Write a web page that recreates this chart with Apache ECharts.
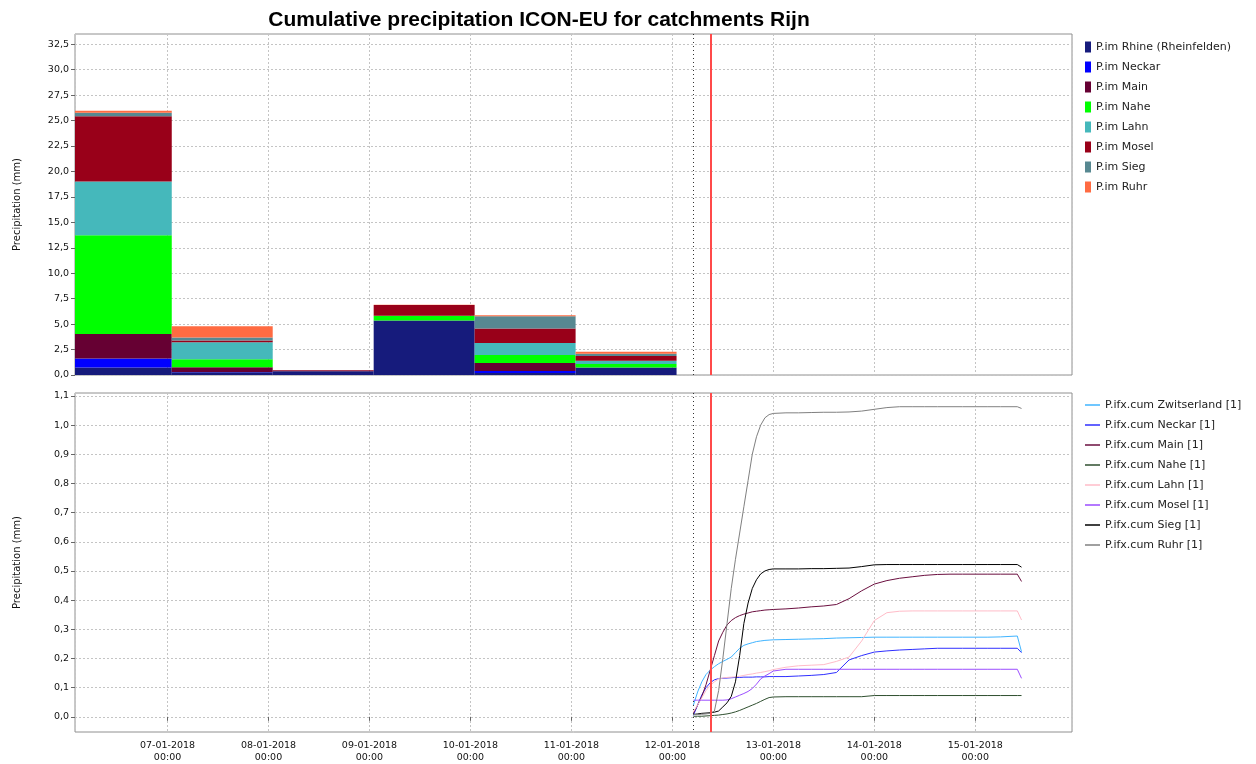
<!DOCTYPE html>
<html>
<head>
<meta charset="utf-8">
<script src="https://cdn.jsdelivr.net/npm/echarts@6/dist/echarts.min.js"></script>
<style>
html,body{margin:0;padding:0;background:#fff;}
#chart{width:1256px;height:764px;}
</style>
</head>
<body>
<div id="chart"></div>
<script>
// ---------- Top chart: daily precipitation bins (stacked) ----------
const binStart = ['2018-01-06 01:00','2018-01-07 01:00','2018-01-08 01:00','2018-01-09 01:00','2018-01-10 01:00','2018-01-11 01:00'];
const binEnd   = ['2018-01-07 01:00','2018-01-08 01:00','2018-01-09 01:00','2018-01-10 01:00','2018-01-11 01:00','2018-01-12 01:00'];
const barNames = ['P.im Rhine (Rheinfelden)','P.im Neckar','P.im Main','P.im Nahe','P.im Lahn','P.im Mosel','P.im Sieg','P.im Ruhr'];
const imRhine  = [0.74, 0.28, 0.38, 5.36, 0.20, 0.74];
const imNeckar = [0.88, 0.02, 0.00, 0.00, 0.20, 0.00];
const imMain   = [2.40, 0.46, 0.05, 0.00, 0.77, 0.00];
const imNahe   = [9.70, 0.79, 0.00, 0.47, 0.79, 0.33];
const imLahn   = [5.30, 1.67, 0.00, 0.00, 1.18, 0.33];
const imMosel  = [6.40, 0.16, 0.05, 1.05, 1.44, 0.46];
const imSieg   = [0.35, 0.30, 0.00, 0.00, 1.18, 0.23];
const imRuhr   = [0.20, 1.11, 0.00, 0.03, 0.10, 0.19];
const upperTicks = [0,2.5,5,7.5,10,12.5,15,17.5,20,22.5,25,27.5,30,32.5];

// ---------- Bottom chart: cumulative forecast ----------
const lineTimes = ['2018-01-12 05:00','2018-01-12 06:00','2018-01-12 07:00','2018-01-12 08:00','2018-01-12 09:00','2018-01-12 10:00','2018-01-12 11:00','2018-01-12 12:00','2018-01-12 13:00','2018-01-12 14:00','2018-01-12 15:00','2018-01-12 16:00','2018-01-12 17:00','2018-01-12 18:00','2018-01-12 19:00','2018-01-12 20:00','2018-01-12 21:00','2018-01-12 22:00','2018-01-12 23:00','2018-01-13 00:00','2018-01-13 03:00','2018-01-13 06:00','2018-01-13 09:00','2018-01-13 12:00','2018-01-13 15:00','2018-01-13 18:00','2018-01-13 21:00','2018-01-14 00:00','2018-01-14 03:00','2018-01-14 06:00','2018-01-14 09:00','2018-01-14 12:00','2018-01-14 15:00','2018-01-14 18:00','2018-01-14 21:00','2018-01-15 00:00','2018-01-15 03:00','2018-01-15 06:00','2018-01-15 10:00','2018-01-15 11:00'];
const lineNames = ['P.ifx.cum Zwitserland [1]','P.ifx.cum Neckar [1]','P.ifx.cum Main [1]','P.ifx.cum Nahe [1]','P.ifx.cum Lahn [1]','P.ifx.cum Mosel [1]','P.ifx.cum Sieg [1]','P.ifx.cum Ruhr [1]'];
const cumZwitserland = [0.04,0.085,0.12,0.145,0.16,0.172,0.182,0.19,0.197,0.205,0.22,0.235,0.245,0.25,0.254,0.258,0.26,0.262,0.263,0.264,0.265,0.266,0.267,0.268,0.27,0.271,0.272,0.273,0.273,0.273,0.273,0.273,0.273,0.273,0.273,0.273,0.273,0.274,0.277,0.223];
const cumNeckar = [0.005,0.04,0.075,0.1,0.117,0.127,0.131,0.132,0.133,0.134,0.135,0.135,0.136,0.136,0.136,0.137,0.137,0.137,0.138,0.138,0.138,0.14,0.142,0.145,0.152,0.195,0.21,0.222,0.226,0.229,0.231,0.233,0.235,0.235,0.235,0.235,0.235,0.235,0.235,0.22];
const cumMain = [0.012,0.04,0.07,0.11,0.16,0.21,0.26,0.29,0.315,0.33,0.34,0.347,0.352,0.356,0.36,0.362,0.364,0.366,0.367,0.368,0.37,0.373,0.377,0.38,0.385,0.405,0.432,0.455,0.467,0.475,0.48,0.485,0.488,0.489,0.489,0.489,0.489,0.489,0.489,0.464];
const cumNahe = [0.002,0.002,0.002,0.003,0.004,0.005,0.006,0.008,0.01,0.013,0.017,0.022,0.028,0.034,0.04,0.046,0.053,0.06,0.066,0.068,0.069,0.069,0.069,0.069,0.069,0.069,0.069,0.073,0.073,0.073,0.073,0.073,0.073,0.073,0.073,0.073,0.073,0.073,0.073,0.073];
const cumLahn = [0.018,0.04,0.065,0.09,0.108,0.12,0.13,0.133,0.135,0.136,0.137,0.139,0.142,0.145,0.147,0.15,0.152,0.155,0.158,0.162,0.17,0.175,0.177,0.179,0.19,0.205,0.26,0.33,0.357,0.362,0.363,0.363,0.363,0.363,0.363,0.363,0.363,0.363,0.363,0.332];
const cumMosel = [0.057,0.057,0.057,0.057,0.057,0.057,0.057,0.057,0.058,0.062,0.068,0.074,0.08,0.087,0.097,0.112,0.13,0.14,0.148,0.157,0.163,0.163,0.163,0.163,0.163,0.163,0.163,0.163,0.163,0.163,0.163,0.163,0.163,0.163,0.163,0.163,0.163,0.163,0.163,0.132];
const cumSieg = [0.008,0.01,0.012,0.013,0.014,0.016,0.02,0.034,0.048,0.07,0.12,0.21,0.32,0.39,0.44,0.47,0.49,0.5,0.505,0.507,0.507,0.507,0.508,0.508,0.509,0.51,0.515,0.521,0.522,0.522,0.522,0.522,0.522,0.522,0.522,0.522,0.522,0.522,0.522,0.513];
const cumRuhr = [0.008,0.008,0.009,0.01,0.012,0.02,0.09,0.2,0.32,0.44,0.54,0.63,0.72,0.81,0.9,0.96,1.0,1.025,1.036,1.04,1.042,1.042,1.043,1.044,1.044,1.045,1.048,1.054,1.06,1.063,1.063,1.063,1.063,1.063,1.063,1.063,1.063,1.063,1.063,1.057];
const lowerTicks = [0,0.1,0.2,0.3,0.4,0.5,0.6,0.7,0.8,0.9,1.0,1.1];

// ---------- Axis range & markers ----------
const axisStart = '2018-01-06 02:00';
const axisEnd = '2018-01-15 23:00';
const forecastStart = '2018-01-12 05:00';
const nowTime = '2018-01-12 09:15';

// ---------- Styles ----------
const barColors = ['#161b7c','#0000ff','#660033','#00ff00','#45b8bb','#990019','#578891','#ff6b42'];
const lineColors = ['#40b4ff','#2f2fff','#6b0f3f','#2f4f2f','#ffbcc8','#9b4dff','#000000','#808080'];
const FONT = 'DejaVu Sans';

const parse = (s) => echarts.time.parse(s).getTime();
const pad = (n) => (n < 10 ? '0' : '') + n;
const fmtDate = (v) => {
  const d = new Date(v);
  return pad(d.getDate()) + '-' + pad(d.getMonth() + 1) + '-' + d.getFullYear() + '\n' + pad(d.getHours()) + ':' + pad(d.getMinutes());
};
const fmtNum = (v) => v.toFixed(1).replace('.', ',');

const barValues = [imRhine, imNeckar, imMain, imNahe, imLahn, imMosel, imSieg, imRuhr];
const lineValues = [cumZwitserland, cumNeckar, cumMain, cumNahe, cumLahn, cumMosel, cumSieg, cumRuhr];

function renderBar(params, api) {
  const p0 = api.coord([api.value(0), api.value(3)]);
  const p1 = api.coord([api.value(1), api.value(2)]);
  const cs = params.coordSys;
  const rect = echarts.graphic.clipRectByRect(
    { x: p0[0], y: p0[1], width: p1[0] - p0[0], height: p1[1] - p0[1] },
    { x: cs.x, y: cs.y, width: cs.width, height: cs.height }
  );
  if (!rect || rect.height <= 0) return null;
  return { type: 'rect', shape: rect, style: { fill: api.visual('color') } };
}

const cum = binStart.map(() => 0);
const barSeries = barNames.map((name, k) => {
  const data = binStart.map((s, i) => {
    const lo = cum[i];
    const hi = lo + barValues[k][i];
    cum[i] = hi;
    return [parse(s), parse(binEnd[i]), lo, hi];
  });
  return {
    type: 'custom', name, xAxisIndex: 0, yAxisIndex: 0,
    renderItem: renderBar,
    itemStyle: { color: barColors[k] },
    encode: { x: [0, 1], y: [2, 3] },
    data, silent: true, z: 2
  };
});

const lineSeries = lineNames.map((name, k) => ({
  type: 'line', name, xAxisIndex: 1, yAxisIndex: 1,
  data: lineTimes.map((t, i) => [parse(t), lineValues[k][i]]),
  showSymbol: false, symbol: 'none',
  lineStyle: { width: 1, color: lineColors[k] },
  itemStyle: { color: lineColors[k] },
  silent: true, z: 3, animation: false
}));

// dotted forecast-start line
const dottedMarker = (xi, yi, when) => ({
  type: 'custom', name: 'forecastStart' + xi, xAxisIndex: xi, yAxisIndex: yi, silent: true, z: 5,
  data: [[parse(when)]],
  encode: { x: 0 },
  renderItem: (params, api) => {
    const cs = params.coordSys;
    const x = Math.round(api.coord([api.value(0), 0])[0]) + 0.5;
    return {
      type: 'line',
      shape: { x1: x, y1: cs.y, x2: x, y2: cs.y + cs.height },
      style: { stroke: '#333333', lineWidth: 1, lineDash: [1, 3] }
    };
  }
});

// solid red "now" line
const nowMarker = (xi, yi, when) => ({
  type: 'custom', name: 'now' + xi, xAxisIndex: xi, yAxisIndex: yi, silent: true, z: 6,
  data: [[parse(when)]],
  encode: { x: 0 },
  itemStyle: { color: '#ff0000' },
  renderItem: (params, api) => {
    const cs = params.coordSys;
    const x = Math.round(api.coord([api.value(0), 0])[0]) - 1;
    return {
      type: 'rect',
      shape: { x: x, y: cs.y, width: 2, height: cs.height },
      style: { fill: '#ff4a4a', stroke: null }
    };
  }
});

const gridLine = { show: true, lineStyle: { color: '#c4c4c4', type: [2, 2], width: 1 } };

const xAxisBase = (gi) => ({
  type: 'time', gridIndex: gi,
  min: parse(axisStart), max: parse(axisEnd),
  minInterval: 86400000, maxInterval: 86400000,
  axisLine: { show: false },
  axisPointer: { show: false },
  splitLine: gridLine
});

const legendText = { fontFamily: FONT, fontSize: 11, color: '#222', lineHeight: 14 };

const option = {
  animation: false,
  backgroundColor: '#fff',
  title: {
    text: 'Cumulative precipitation ICON-EU for catchments Rijn',
    left: 534, top: 5, textAlign: 'center',
    textStyle: { fontFamily: 'Liberation Sans', fontWeight: 'bold', fontSize: 21, color: '#000' }
  },
  grid: [
    { left: 75, top: 34, width: 997, height: 341, show: true, borderColor: '#909090', borderWidth: 1, backgroundColor: '#fff' },
    { left: 75, top: 393, width: 997, height: 339, show: true, borderColor: '#909090', borderWidth: 1, backgroundColor: '#fff' }
  ],
  legend: [
    {
      data: barNames.map(n => ({ name: n, icon: 'rect' })),
      orient: 'vertical', left: 1085, top: 40, padding: 0,
      itemWidth: 6, itemHeight: 11, itemGap: 6,
      textStyle: legendText, selectedMode: false
    },
    {
      data: lineNames.map(n => ({ name: n, icon: 'rect' })),
      orient: 'vertical', left: 1085, top: 398, padding: 0,
      itemWidth: 15, itemHeight: 1.5, itemGap: 6,
      textStyle: legendText, selectedMode: false
    }
  ],
  xAxis: [
    Object.assign(xAxisBase(0), { axisTick: { show: false }, axisLabel: { show: false } }),
    Object.assign(xAxisBase(1), {
      axisTick: { show: true, length: 4, lineStyle: { color: '#666' } },
      axisLabel: { formatter: fmtDate, fontFamily: FONT, fontSize: 9.5, color: '#111', lineHeight: 12, margin: 8 }
    })
  ],
  yAxis: [
    {
      type: 'value', gridIndex: 0, min: 0, max: 33.5,
      name: 'Precipitation (mm)', nameLocation: 'middle', nameGap: 53,
      nameTextStyle: { fontFamily: FONT, fontSize: 10, color: '#111' },
      axisLine: { show: false },
      axisTick: { show: true, length: 4, lineStyle: { color: '#666' }, customValues: upperTicks },
      axisLabel: { formatter: fmtNum, fontFamily: FONT, fontSize: 9.5, color: '#111', margin: 6, customValues: upperTicks },
      splitLine: gridLine
    },
    {
      type: 'value', gridIndex: 1, min: -0.052, max: 1.11,
      name: 'Precipitation (mm)', nameLocation: 'middle', nameGap: 53,
      nameTextStyle: { fontFamily: FONT, fontSize: 10, color: '#111' },
      axisLine: { show: false },
      axisTick: { show: true, length: 4, lineStyle: { color: '#666' }, customValues: lowerTicks },
      axisLabel: { formatter: fmtNum, fontFamily: FONT, fontSize: 9.5, color: '#111', margin: 6, customValues: lowerTicks },
      splitLine: gridLine
    }
  ],
  series: [
    ...barSeries,
    dottedMarker(0, 0, forecastStart),
    nowMarker(0, 0, nowTime),
    ...lineSeries,
    dottedMarker(1, 1, forecastStart),
    nowMarker(1, 1, nowTime)
  ]
};

const chart = echarts.init(document.getElementById('chart'), null, { renderer: 'canvas' });
chart.setOption(option);
</script>
</body>
</html>
